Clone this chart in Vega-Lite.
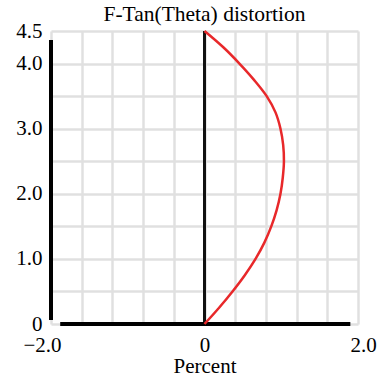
{
  "$schema": "https://vega.github.io/schema/vega-lite/v6.json",
  "width": 307,
  "height": 293,
  "autosize": {"type": "none"},
  "padding": {"left": 51, "top": 31, "right": 32, "bottom": 58},
  "background": "white",
  "title": {
    "text": "F-Tan(Theta) distortion",
    "font": "Liberation Serif",
    "fontSize": 21.5,
    "fontWeight": "normal",
    "color": "#000000",
    "anchor": "middle",
    "baseline": "alphabetic",
    "offset": 0,
    "dy": 22
  },
  "config": {
    "view": {"stroke": null},
    "axis": {
      "labelFont": "Liberation Serif",
      "labelFontSize": 21,
      "labelColor": "#000000",
      "titleFont": "Liberation Serif",
      "titleFontSize": 21,
      "titleFontWeight": "normal",
      "titleColor": "#000000",
      "gridColor": "#e0e0e0",
      "gridWidth": 2.5,
      "gridOpacity": 1,
      "domain": false,
      "ticks": false,
      "labelFlush": false,
      "labelBound": false,
      "labelOverlap": false
    }
  },
  "encoding": {
    "x": {"field": "pct", "type": "quantitative", "scale": {"domain": [-2, 2], "nice": false, "zero": false}, "axis": {
      "title": "Percent",
      "values": [-2, -1.6, -1.2, -0.8, -0.4, 0, 0.4, 0.8, 1.2, 1.6, 2],
      "labelExpr": "datum.value == -2 ? '−2.0' : datum.value == 0 ? '0' : datum.value == 2 ? '2.0' : ''",
      "labelOffset": {"condition": [{"test": "datum.value == -2", "value": -9}, {"test": "datum.value == 2", "value": 5}], "value": 0},
      "labelPadding": 10,
      "titlePadding": 0
    }},
    "y": {"field": "h", "type": "quantitative", "scale": {"domain": [0, 4.5], "nice": false}, "axis": {
      "title": null,
      "values": [0, 0.5, 1, 1.5, 2, 2.5, 3, 3.5, 4, 4.5],
      "labelExpr": "datum.value == 0 ? '0' : (datum.value == 1 || datum.value == 2 || datum.value == 3 || datum.value == 4 || datum.value == 4.5) ? format(datum.value, '.1f') : ''",
      "labelPadding": 9
    }}
  },
  "layer": [
    {
      "data": {"values": [{"pct": 0, "pct2": 0, "h": 0, "h2": 4.5}]},
      "mark": {"type": "rule", "color": "#111111", "strokeWidth": 3},
      "encoding": {
        "x2": {"field": "pct2"},
        "y2": {"field": "h2"}
      }
    },
    {
      "data": {"values": [
        {"pct": -2, "pct2": -2, "h": 0.06, "h2": 4.36},
        {"pct": -1.88, "pct2": 1.9, "h": 0, "h2": 0}
      ]},
      "mark": {"type": "rule", "color": "#000000", "strokeWidth": 4},
      "encoding": {
        "x2": {"field": "pct2"},
        "y2": {"field": "h2"}
      }
    },
    {
      "data": {"values": [
        {"i": 0, "pct": 0, "h": 0},
        {"i": 1, "pct": 0.19, "h": 0.25},
        {"i": 2, "pct": 0.365, "h": 0.5},
        {"i": 3, "pct": 0.525, "h": 0.75},
        {"i": 4, "pct": 0.665, "h": 1.0},
        {"i": 5, "pct": 0.78, "h": 1.25},
        {"i": 6, "pct": 0.87, "h": 1.5},
        {"i": 7, "pct": 0.94, "h": 1.75},
        {"i": 8, "pct": 0.99, "h": 2.0},
        {"i": 9, "pct": 1.02, "h": 2.25},
        {"i": 10, "pct": 1.035, "h": 2.5},
        {"i": 11, "pct": 1.025, "h": 2.75},
        {"i": 12, "pct": 0.99, "h": 3.0},
        {"i": 13, "pct": 0.925, "h": 3.25},
        {"i": 14, "pct": 0.81, "h": 3.5},
        {"i": 15, "pct": 0.645, "h": 3.75},
        {"i": 16, "pct": 0.455, "h": 4.0},
        {"i": 17, "pct": 0.245, "h": 4.25},
        {"i": 18, "pct": 0, "h": 4.5}
      ]},
      "mark": {"type": "line", "color": "#e8282a", "strokeWidth": 2.5, "interpolate": "catmull-rom"},
      "encoding": {
        "order": {"field": "i", "type": "quantitative"}
      }
    }
  ]
}
